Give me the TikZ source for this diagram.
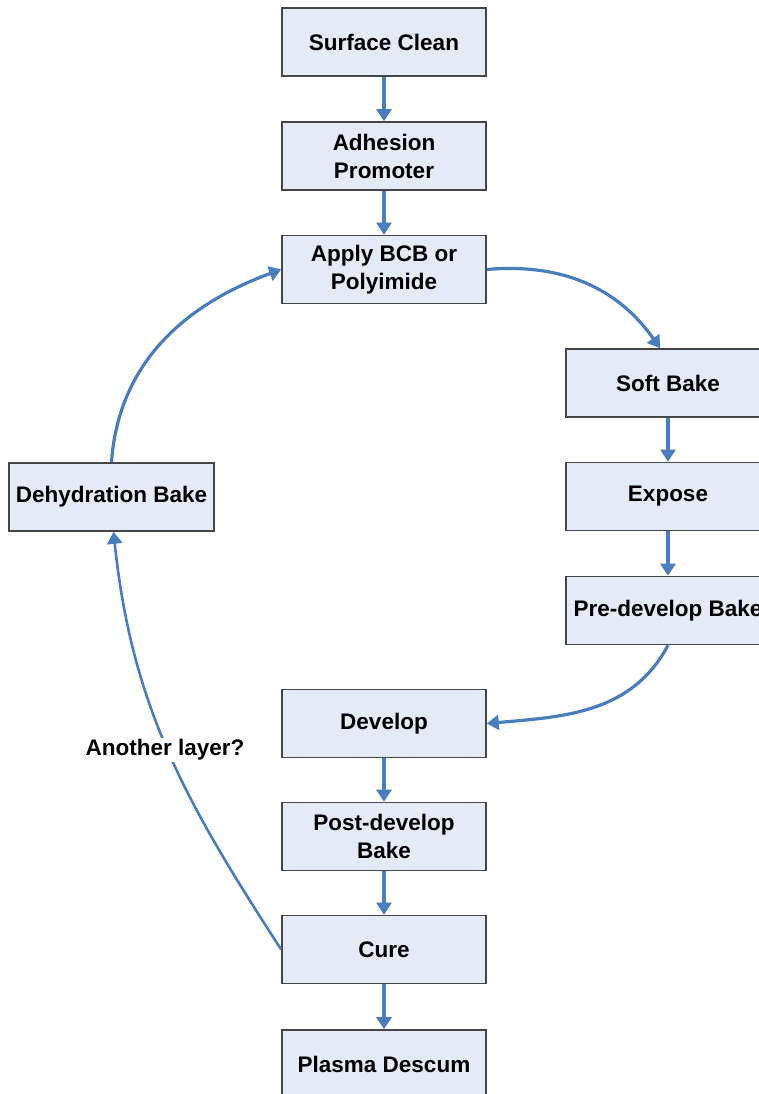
\documentclass[tikz,border=0pt]{standalone}
\usepackage{fontspec}
\setmainfont{Liberation Sans}
\usetikzlibrary{arrows.meta}
\definecolor{boxfill}{RGB}{228,234,246}
\definecolor{boxline}{RGB}{70,70,70}
\definecolor{arrowblue}{RGB}{74,125,190}
\tikzset{
  stepbox/.style={draw=boxline, line width=0.8pt, fill=boxfill, minimum width=102pt, minimum height=34pt, inner sep=0pt, align=center, font=\fontsize{11.25}{14}\selectfont\bfseries},
  flow/.style={draw=arrowblue, line width=1.6pt, -{Triangle[length=6pt,width=7.5pt]}},
  lbl/.style={fill=white, inner sep=1pt, font=\fontsize{11.25}{14}\selectfont\bfseries}
}
\begin{document}
\begin{tikzpicture}[x=0.5pt,y=0.5pt]
\clip (0,0) rectangle (759,1094);
\fill[white] (0,0) rectangle (759,1094);
\node[stepbox] (sc) at (384,1052) {Surface Clean};
\node[stepbox] (ap) at (384,938) {Adhesion\\Promoter};
\node[stepbox] (bcb) at (384,824.5) {Apply BCB or\\Polyimide};
\node[stepbox] (soft) at (668,711) {Soft Bake};
\node[stepbox] (exp) at (668,597.5) {Expose};
\node[stepbox] (pre) at (668,483.5) {Pre-develop Bake};
\node[stepbox] (dev) at (384,370.5) {Develop};
\node[stepbox] (post) at (384,257.5) {Post-develop\\Bake};
\node[stepbox] (cure) at (384,144.5) {Cure};
\node[stepbox] (pd) at (384,30) {Plasma Descum};
\node[stepbox, minimum width=102.5pt] (dh) at (111.5,597) {Dehydration Bake};

\draw[flow] (sc) -- (ap);
\draw[flow] (ap) -- (bcb);
\draw[flow] (bcb.east) to[out=5,in=125] ([xshift=-4pt]soft.north);
\draw[flow] (soft) -- (exp);
\draw[flow] (exp) -- (pre);
\draw[flow] (pre.south) to[out=-118,in=5] (dev.east);
\draw[flow] (dev) -- (post);
\draw[flow] (post) -- (cure);
\draw[flow] (cure) -- (pd);
\draw[flow, line width=1.3pt] (cure.west) to[out=123,in=-84] ([xshift=1pt]dh.south);
\draw[flow] (dh.north) to[out=86,in=200] (bcb.west);
\node[lbl] (q) at (165,344) {Another layer?};
\end{tikzpicture}
\end{document}
